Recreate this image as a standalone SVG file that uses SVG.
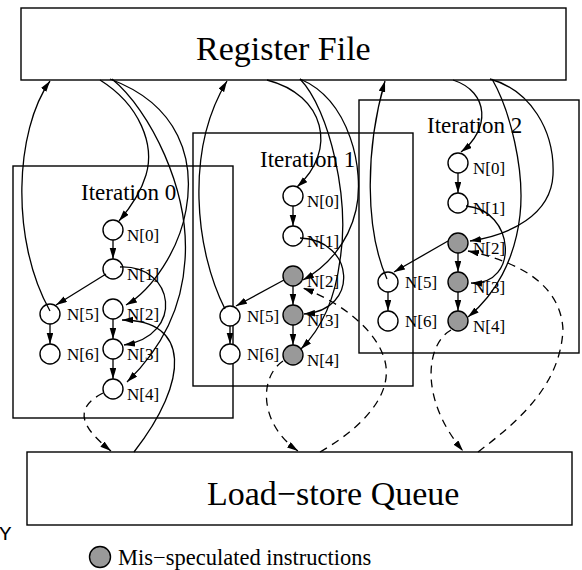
<svg xmlns="http://www.w3.org/2000/svg" width="582" height="570" viewBox="0 0 582 570">
<style>
.box{fill:none;stroke:#000;stroke-width:1.4}
.nd{fill:#fff;stroke:#000;stroke-width:1.4}
.ms{fill:#999;stroke:#000;stroke-width:1.4}
.e{fill:none;stroke:#000;stroke-width:1.3;marker-end:url(#ah)}
.d{fill:none;stroke:#000;stroke-width:1.3;stroke-dasharray:8,6;marker-end:url(#ah)}
.big{font-family:"Liberation Serif","Times New Roman",serif;font-size:34px;fill:#000}
.it{font-family:"Liberation Serif","Times New Roman",serif;font-size:23px;fill:#000}
.lb{font-family:"Liberation Serif","Times New Roman",serif;font-size:17px;fill:#000}
.lg{font-family:"Liberation Serif","Times New Roman",serif;font-size:22.5px;fill:#000}
.mono{font-family:"Liberation Mono","Courier New",monospace;font-size:21px;fill:#000}
</style>
<defs>
<marker id="ah" markerUnits="userSpaceOnUse" markerWidth="12" markerHeight="7" refX="11" refY="3.3" orient="auto">
<path d="M0,0 L11,3.3 L0,6.6 z" fill="#000"/>
</marker>
</defs>
<rect width="582" height="570" fill="#fff"/>

<g id="register-file">
<rect class="box" x="21" y="8" width="545" height="72"/>
<text class="big" x="196" y="60">Register File</text>
</g>
<g id="load-store-queue">
<rect class="box" x="27" y="452" width="545" height="73"/>
<text class="big" x="207" y="505">Load−store Queue</text>
</g>

<g id="iteration-0">
<rect class="box" x="13" y="166" width="220" height="252"/>
<text class="it" x="81" y="200">Iteration 0</text>
</g>
<g id="iteration-1">
<rect class="box" x="193" y="133" width="220" height="253"/>
<text class="it" x="260" y="167">Iteration 1</text>
</g>
<g id="iteration-2">
<rect class="box" x="359" y="100" width="220" height="253"/>
<text class="it" x="427" y="133">Iteration 2</text>
</g>

<g id="i0-n0"><circle class="nd" cx="113" cy="230" r="10"/><text class="lb" x="127" y="241">N[0]</text></g>
<g id="i0-n1"><circle class="nd" cx="113" cy="269" r="10"/><text class="lb" x="127" y="280">N[1]</text></g>
<g id="i0-n2"><circle class="nd" cx="113" cy="309" r="10"/><text class="lb" x="127" y="320">N[2]</text></g>
<g id="i0-n3"><circle class="nd" cx="113" cy="349" r="10"/><text class="lb" x="127" y="360">N[3]</text></g>
<g id="i0-n4"><circle class="nd" cx="113" cy="389" r="10"/><text class="lb" x="127" y="400">N[4]</text></g>
<g id="i0-n5"><circle class="nd" cx="50" cy="314" r="10"/><text class="lb" x="67" y="320">N[5]</text></g>
<g id="i0-n6"><circle class="nd" cx="50" cy="354" r="10"/><text class="lb" x="67" y="360">N[6]</text></g>

<g id="i1-n0"><circle class="nd" cx="293" cy="196" r="10"/><text class="lb" x="307" y="207">N[0]</text></g>
<g id="i1-n1"><circle class="nd" cx="293" cy="236" r="10"/><text class="lb" x="307" y="247">N[1]</text></g>
<g id="i1-n2"><circle class="ms" cx="293" cy="276" r="10"/><text class="lb" x="307" y="287">N[2]</text></g>
<g id="i1-n3"><circle class="ms" cx="293" cy="315" r="10"/><text class="lb" x="307" y="326">N[3]</text></g>
<g id="i1-n4"><circle class="ms" cx="293" cy="355" r="10"/><text class="lb" x="307" y="366">N[4]</text></g>
<g id="i1-n5"><circle class="nd" cx="230" cy="316" r="10"/><text class="lb" x="247" y="322">N[5]</text></g>
<g id="i1-n6"><circle class="nd" cx="230" cy="354" r="10"/><text class="lb" x="247" y="360">N[6]</text></g>

<g id="i2-n0"><circle class="nd" cx="458" cy="163" r="10"/><text class="lb" x="473" y="174">N[0]</text></g>
<g id="i2-n1"><circle class="nd" cx="458" cy="203" r="10"/><text class="lb" x="473" y="214">N[1]</text></g>
<g id="i2-n2"><circle class="ms" cx="458" cy="243" r="10"/><text class="lb" x="473" y="254">N[2]</text></g>
<g id="i2-n3"><circle class="ms" cx="458" cy="282" r="10"/><text class="lb" x="473" y="293">N[3]</text></g>
<g id="i2-n4"><circle class="ms" cx="458" cy="321" r="10"/><text class="lb" x="473" y="332">N[4]</text></g>
<g id="i2-n5"><circle class="nd" cx="388" cy="282" r="10"/><text class="lb" x="405" y="288">N[5]</text></g>
<g id="i2-n6"><circle class="nd" cx="388" cy="321" r="10"/><text class="lb" x="405" y="327">N[6]</text></g>

<g id="connectors">
<!-- iteration 0 -->
<path class="e" d="M113,240 L113,259"/>
<path class="e" d="M106,274 L56,305"/>
<path class="e" d="M50,324 L50,344"/>
<path class="e" d="M113,319 L113,339"/>
<path class="e" d="M113,359 L113,379"/>
<path class="e" d="M120,267 C175,265 185,335 124,345"/>
<path class="e" d="M100,80 C140,105 155,145 146,175 C141,192 130,208 119,221"/>
<path class="e" d="M110,79 C180,105 195,160 186,210 C179,250 152,290 126,305"/>
<path class="e" d="M112,79 C150,110 190,190 185,260 C182,310 160,350 127,382"/>
<path class="e" d="M50,311 C10,240 15,130 50,81"/>
<path class="e" d="M134,452 C190,380 190,320 122,320"/>
<path class="d" d="M103,393 C70,410 85,430 111,451"/>
<!-- iteration 1 -->
<path class="e" d="M293,206 L293,226"/>
<path class="e" d="M293,286 L293,305"/>
<path class="e" d="M293,325 L293,345"/>
<path class="e" d="M230,326 L230,344"/>
<path class="e" d="M284,280 L236,306"/>
<path class="e" d="M300,238 C355,240 360,310 304,314"/>
<path class="e" d="M267,80 C325,95 338,150 297,187"/>
<path class="e" d="M300,79 C350,100 365,170 356,210 C348,245 325,268 303,280"/>
<path class="e" d="M300,79 C330,110 350,200 340,260 C335,300 320,330 301,349"/>
<path class="e" d="M225,309 C195,250 185,150 227,81"/>
<path class="d" d="M283,361 C258,378 260,425 298,451"/>
<path class="d" d="M320,452 C375,420 395,385 383,355 C372,325 335,300 303,288"/>
<!-- iteration 2 -->
<path class="e" d="M458,173 L458,193"/>
<path class="e" d="M458,253 L458,272"/>
<path class="e" d="M458,292 L458,311"/>
<path class="e" d="M388,292 L388,311"/>
<path class="e" d="M448,241 L394,272"/>
<path class="e" d="M466,206 C515,210 520,285 471,283"/>
<path class="e" d="M453,80 C490,92 490,130 461,152"/>
<path class="e" d="M490,79 C530,90 555,130 553,175 C551,215 510,235 470,241"/>
<path class="e" d="M492,79 C510,110 525,170 520,215 C515,260 495,295 468,317"/>
<path class="e" d="M387,279 C365,230 365,150 385,81"/>
<path class="d" d="M451,330 C425,345 420,400 463,451"/>
<path class="d" d="M478,452 C520,420 560,385 563,330 C561,285 520,262 468,251"/>
</g>

<g id="legend">
<circle class="ms" cx="100" cy="557" r="10.5"/>
<text class="lg" x="118" y="565">Mis−speculated instructions</text>
</g>
<text class="mono" x="-1" y="540">Y</text>
</svg>
